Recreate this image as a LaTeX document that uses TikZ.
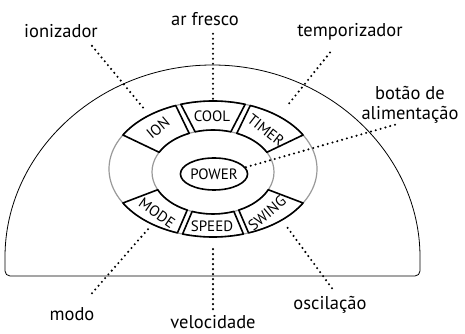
\documentclass[tikz,border=0pt]{standalone}
\usepackage{fontspec}
\setmainfont{PT Sans}
\usetikzlibrary{shapes.geometric, positioning, calc}

\tikzset{
	btn/.style={draw=black, line width=1.6pt, line join=round},
	ring/.style={draw=black!40, line width=1.2pt},
	lead/.style={line width=2.3pt, line cap=round, dash pattern=on 0pt off 5pt},
	lbl/.style={font=\fontsize{18.5}{20}\selectfont, align=center, inner sep=0pt},
	key/.style={font=\fontsize{15}{17}\selectfont, inner sep=0pt}
}

\begin{document}
\begin{tikzpicture}[x=1pt, y=1pt]
	\useasboundingbox (0,0) rectangle (465,334);

	\draw[line width=0.8pt, rounded corners=5pt] (212.5,58) -- (420,58) -- (420,72)
		arc[start angle=0, end angle=180, x radius=207.5, y radius=197] -- (5,58) -- cycle;

	\coordinate (ring) at (213,165);
	\coordinate (hub)  at (213,162);
	\draw[ring] (ring) ellipse[x radius=104, y radius=68];
	\draw[ring] (hub)  ellipse[x radius=61, y radius=42];

	\foreach \oa/\ob/\ia/\ib in {150/111/152/113, 108/72/107/73, 69/30/67/28,
	                             210/250/205/245, 253/287/250/290, 290/330/295/335}
		\draw[btn] ([shift={(\oa:104 and 68)}]ring) arc[start angle=\oa, end angle=\ob, x radius=104, y radius=68]
			-- ([shift={(\ib:61 and 42)}]hub) arc[start angle=\ib, end angle=\ia, x radius=61, y radius=42] -- cycle;

	\node[key, draw, ellipse, line width=1.6pt, minimum width=64pt, minimum height=32pt] (power) at (214,160) {POWER};
	\node[key, rotate=40]  (ion)   at (158,206) {ION};
	\node[key]             (cool)  at (212,218) {COOL};
	\node[key, rotate=-38] (timer) at (266,204) {TIMER};
	\node[key, rotate=-35] (mode)  at (157,121) {MODE};
	\node[key]             (speed) at (212,108) {SPEED};
	\node[key, rotate=40]  (swing) at (267,121) {SWING};

	\node[lbl] (ionizador)    at (61,303)  {ionizador};
	\node[lbl] (arfresco)     at (205,315) {ar fresco};
	\node[lbl] (temporizador) at (350,302) {temporizador};
	\node[lbl] (alimentacao)  at (410,229) {botão de\\alimentação};
	\node[lbl] (modo)         at (72,20)   {modo};
	\node[lbl] (velocidade)   at (213,12)  {velocidade};
	\node[lbl] (oscilacao)    at (330,29)  {oscilação};

	\coordinate (ion-tip)   at (145,224);
	\coordinate (cool-tip)  at (213,235);
	\coordinate (timer-tip) at (287,228);
	\coordinate (mode-tip)  at (149,106);
	\coordinate (speed-tip) at (213,87);
	\coordinate (swing-tip) at (287,107);

	\draw[lead] (ionizador.south) ++(31,-8)     -- (ion-tip);
	\draw[lead] (arfresco.south) ++(8,-8)       -- (cool-tip);
	\draw[lead] (temporizador.south) ++(-20,-12) -- (timer-tip);
	\draw[lead] (alimentacao.south) ++(-15,-1)  -- (power.12);
	\draw[lead] (modo.north) ++(20,14)          -- (mode-tip);
	\draw[lead] (velocidade.north) ++(0,6)      -- (speed-tip);
	\draw[lead] (oscilacao.north) ++(2,8)       -- (swing-tip);
\end{tikzpicture}
\end{document}
